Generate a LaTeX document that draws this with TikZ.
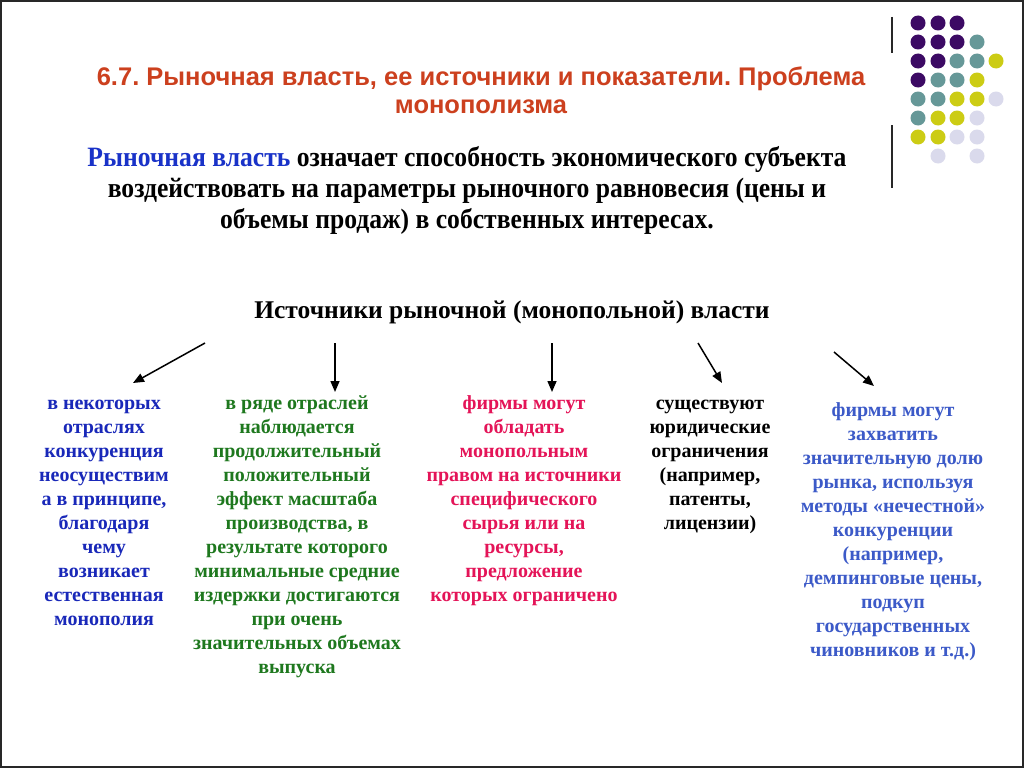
\documentclass[tikz,border=0pt]{standalone}
\usepackage{fontspec}
\setmainfont{Liberation Serif}
\newfontfamily\titlefont{Liberation Sans}
\newfontfamily\deffont[FakeStretch=0.915]{Liberation Serif}
\usetikzlibrary{arrows.meta}
\definecolor{titlecol}{RGB}{204,64,30}
\definecolor{defblue}{RGB}{25,50,200}
\definecolor{colblue}{RGB}{25,40,185}
\definecolor{colgreen}{RGB}{30,120,30}
\definecolor{colred}{RGB}{228,20,88}
\definecolor{colblueb}{RGB}{60,90,200}
\definecolor{dotP}{RGB}{60,10,100}
\definecolor{dotT}{RGB}{102,152,152}
\definecolor{dotY}{RGB}{204,204,20}
\definecolor{dotL}{RGB}{218,218,236}
\definecolor{framegray}{RGB}{40,40,40}
\begin{document}
\frenchspacing
\begin{tikzpicture}[x=1pt,y=-1pt,
  coltext/.style={anchor=north,align=center,inner sep=0pt,font=\bfseries\fontsize{20}{24}\selectfont},
  arr/.style={line width=1.5pt,-{Triangle[length=11pt,width=9pt]}},
  dot/.style={circle,inner sep=0pt,minimum size=15pt}]
\useasboundingbox (0,0) rectangle (1024,768);
\fill[white] (0,0) rectangle (1024,768);
\draw[framegray,line width=2pt] (1,1) rectangle (1023,767);
% decorative lines
\draw[framegray,line width=1.5pt] (892,17) -- (892,53);
\draw[framegray,line width=1.5pt] (892,125) -- (892,188);
% dots
\foreach \c/\x/\y in {P/918/23,P/938/23,P/957/23,
  P/918/42,P/938/42,P/957/42,T/977/42,
  P/918/61,P/938/61,T/957/61,T/977/61,Y/996/61,
  P/918/80,T/938/80,T/957/80,Y/977/80,
  T/918/99,T/938/99,Y/957/99,Y/977/99,L/996/99,
  T/918/118,Y/938/118,Y/957/118,L/977/118,
  Y/918/137,Y/938/137,L/957/137,L/977/137,
  L/938/156,L/977/156}
  \fill[dot\c] (\x,\y) circle (7.5pt);
% title
\node[align=center,inner sep=0pt,text=titlecol,font=\titlefont\bfseries\fontsize{25.5}{28}\selectfont] (title) at (481,90)
  {6.7. Рыночная власть, ее источники и показатели. Проблема\\монополизма};
\node[align=center,inner sep=0pt,font=\deffont\bfseries\fontsize{28}{31}\selectfont] (def) at (467,190)
  {\textcolor{defblue}{Рыночная власть} означает способность экономического субъекта\\воздействовать на параметры рыночного равновесия (цены и\\объемы продаж) в собственных интересах.};
\node[inner sep=0pt,font=\bfseries\fontsize{25.5}{28}\selectfont] (head) at (512,312)
  {Источники рыночной (монопольной) власти};
% columns
\node[coltext,text=colblue] (c1) at (104,392.5) {\strut в некоторых\\отраслях\\конкуренция\\неосуществим\\а в принципе,\\благодаря\\чему\\возникает\\естественная\\монополия};
\node[coltext,text=colgreen] (c2) at (297,392.5) {\strut в ряде отраслей\\наблюдается\\продолжительный\\положительный\\эффект масштаба\\производства, в\\результате которого\\минимальные средние\\издержки достигаются\\при очень\\значительных объемах\\выпуска};
\node[coltext,text=colred] (c3) at (524,392.5) {\strut фирмы могут\\обладать\\монопольным\\правом на источники\\специфического\\сырья или на\\ресурсы,\\предложение\\которых ограничено};
\node[coltext,text=black] (c4) at (710,392.5) {\strut существуют\\юридические\\ограничения\\(например,\\патенты,\\лицензии)};
\node[coltext,text=colblueb] (c5) at (893,399.5) {\strut фирмы могут\\захватить\\значительную долю\\рынка, используя\\методы «нечестной»\\конкуренции\\(например,\\демпинговые цены,\\подкуп\\государственных\\чиновников и т.д.)};
% arrow ends
\coordinate (s1) at (205,343); \coordinate (e1) at (133,383);
\coordinate (s2) at (335,343); \coordinate (e2) at (335,392);
\coordinate (s3) at (552,343); \coordinate (e3) at (552,392);
\coordinate (s4) at (698,343); \coordinate (e4) at (722,383);
\coordinate (s5) at (834,352); \coordinate (e5) at (874,386);
\foreach \i in {1,...,5} \draw[arr] (s\i) -- (e\i);
\end{tikzpicture}
\end{document}
